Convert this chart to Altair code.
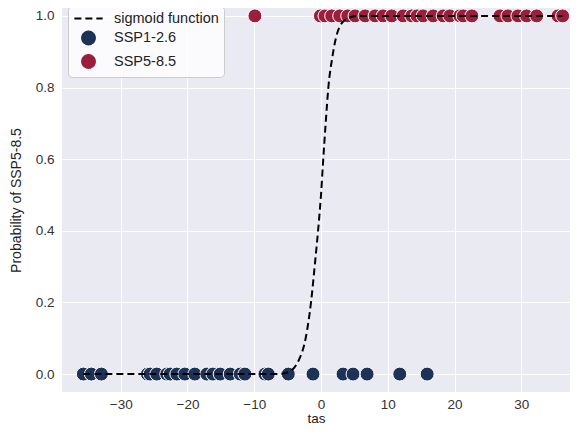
import altair as alt
import pandas as pd

# Values
ssp126_tas = [-35.6, -34.4, -32.9, -26.0, -25.6, -24.6, -23.1, -22.6, -21.6, -20.4,
              -18.9, -17.1, -16.2, -15.1, -13.6, -12.1, -11.4, -8.4, -7.9, -4.9,
              -1.2, 3.3, 4.8, 6.9, 11.8, 15.9]
ssp585_tas = [-9.9, -0.1, 0.6, 1.6, 2.8, 4.0, 5.1, 6.6, 8.1, 9.3, 10.6, 12.3, 13.6,
              14.4, 15.3, 16.8, 18.3, 19.3, 20.8, 21.3, 22.6, 26.8, 28.0, 29.5,
              30.8, 32.3, 35.5, 36.2]

curve_tas = [-35.6, -8.0, -6.0, -4.8, -4.0, -3.3, -2.3, -1.5, -0.9, -0.3, 0.0, 0.3,
             0.7, 1.1, 1.7, 2.4, 3.7, 5.4, 8.0, 36.2]
curve_prob = [0.0, 0.0, 0.001, 0.006, 0.018, 0.04, 0.10, 0.20, 0.31, 0.43, 0.50, 0.59,
              0.70, 0.80, 0.885, 0.95, 0.99, 1.0, 1.0, 1.0]

series_names = ["sigmoid function", "SSP1-2.6", "SSP5-8.5"]
series_colors = ["#000000", "#1c3257", "#9b1e3c"]
series_shapes = ["M-2.2,0H2.2", "circle", "circle"]
series_dashes = [[7, 4], [1, 0], [1, 0]]
x_ticks = [-30, -20, -10, 0, 10, 20, 30]
y_ticks = [0.0, 0.2, 0.4, 0.6, 0.8, 1.0]

points = pd.DataFrame({
    "tas": ssp126_tas + ssp585_tas,
    "prob": [0.0] * len(ssp126_tas) + [1.0] * len(ssp585_tas),
    "series": ["SSP1-2.6"] * len(ssp126_tas) + ["SSP5-8.5"] * len(ssp585_tas),
})
curve = pd.DataFrame({"tas": curve_tas, "prob": curve_prob,
                      "series": ["sigmoid function"] * len(curve_tas)})

FONT = "Liberation Sans"

x_enc = alt.X("tas:Q", title="tas",
              scale=alt.Scale(domain=[-38.8, 37.3], nice=False, zero=False),
              axis=alt.Axis(values=x_ticks, format="d", labelPadding=5, titleY=30,
                            titleBaseline="alphabetic", titleFontSize=13.5))
y_enc = alt.Y("prob:Q", title="Probability of SSP5-8.5",
              scale=alt.Scale(domain=[-0.05, 1.022], nice=False, zero=False),
              axis=alt.Axis(values=y_ticks, format=".1f"))

legend = alt.Legend(
    title=None, orient="none", legendX=6, legendY=-2,
    fillColor="rgba(255,255,255,0.8)", strokeColor="#cccccc", cornerRadius=4,
    padding=5, labelFont=FONT, labelFontSize=14.5, labelColor="#222222",
    symbolSize=165, symbolOffset=8, labelOffset=18, rowPadding=2.5,
    symbolStrokeWidth=2, symbolOpacity=1,
)
color = alt.Color("series:N", scale=alt.Scale(domain=series_names, range=series_colors),
                  legend=legend)
shape = alt.Shape("series:N", scale=alt.Scale(domain=series_names, range=series_shapes),
                  legend=legend)
dash = alt.StrokeDash("series:N",
                      scale=alt.Scale(domain=series_names, range=series_dashes),
                      legend=legend)

pts = alt.Chart(points).mark_point(filled=True, opacity=1, size=195, stroke="white",
                                   strokeWidth=1).encode(
    x=x_enc, y=y_enc, color=color, shape=shape)
line = alt.Chart(curve).mark_line(strokeWidth=2, interpolate="monotone").encode(
    x=x_enc, y=y_enc, color=color, strokeDash=dash)

chart = alt.layer(pts, line).properties(
    width=508, height=384,
    autosize=alt.AutoSizeParams(type="none"),
    padding={"left": 54, "top": 0, "right": 8, "bottom": 34},
).configure_view(fill="#EAEAF2", stroke=None).configure_axis(
    grid=True, gridColor="white", gridWidth=1, domain=False, ticks=False,
    labelFont=FONT, labelFontSize=13.5, labelColor="#333333", labelPadding=8,
    titleFont=FONT, titleFontSize=14, titleColor="#222222", titleFontWeight="normal",
).configure_axisY(titlePadding=12)

chart.save("out.html", embed_options={"renderer": "svg", "actions": False})
